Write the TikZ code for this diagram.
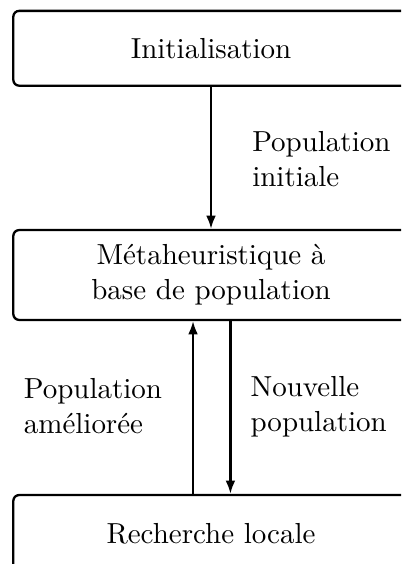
\documentclass[tikz,border=0pt]{standalone}
\usetikzlibrary{arrows.meta}
\begin{document}
\begin{tikzpicture}[
  x=0.345pt, y=-0.345pt,
  stagebox/.style={draw, line width=0.8pt, rounded corners=2pt,
    minimum width=136.4pt, inner sep=0pt, align=center},
  flow/.style={line width=0.8pt, -{Latex[length=4.6pt,width=3.4pt]}},
  flowlabel/.style={anchor=base west, align=left, inner sep=0pt}
]
\useasboundingbox (0,0) rectangle (401,564);
\clip (0,0) rectangle (401,564);

% processing stages
\node[stagebox, minimum height=25.8pt] (init) at (211,48.3) {Initialisation};
\node[stagebox, minimum height=31pt] (meta) at (211,275) {Métaheuristique à\\base de population};
\node[stagebox, minimum height=26.4pt] (local) at (211,533.3) {Recherche locale};

% exchanges between stages
\draw[flow] (init.south) -- (meta.north);
\draw[flow] ([xshift=-6.2pt]local.north) -- ([xshift=-6.2pt]meta.south);
\draw[flow] ([xshift=6.7pt]meta.south) -- ([xshift=6.7pt]local.north);

% labels of the exchanged data (anchored on the baseline of their last line)
\node[flowlabel] (lblinit) at (251.7,186.7) {Population\\initiale};
\node[flowlabel] (lblbest) at (23.3,433) {Population\\améliorée};
\node[flowlabel] (lblnew) at (250,431.7) {Nouvelle\\population};
\end{tikzpicture}
\end{document}
